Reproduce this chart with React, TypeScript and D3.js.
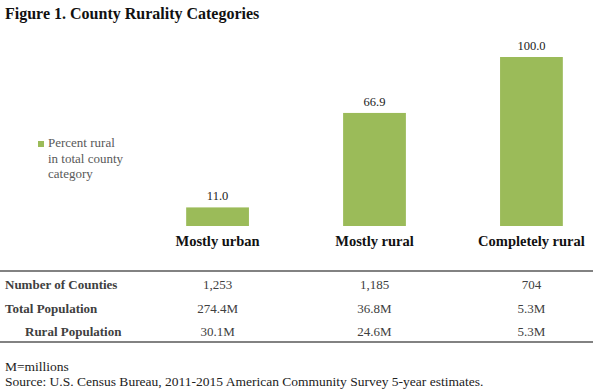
import React from "react";
import * as d3 from "d3";

const categories = ["Mostly urban", "Mostly rural", "Completely rural"];
const percentRural = [11.0, 66.9, 100.0];
const rowLabels = ["Number of Counties", "Total Population", "Rural Population"];
const counties = ["1,253", "1,185", "704"];
const totalPop = ["274.4M", "36.8M", "5.3M"];
const ruralPop = ["30.1M", "24.6M", "5.3M"];
const legendLines = ["Percent rural", "in total county", "category"];

const W = 601;
const H = 391;
const GREEN = "#9bbb59";
const serif = "Liberation Serif";

const App: React.FC = () => {
  const x = d3.scaleBand<string>().domain(categories).range([92, 657]).padding(0.6);
  const y = d3.scaleLinear().domain([0, 100]).range([226, 57]);

  const rows = [counties, totalPop, ruralPop];
  const rowY = d3.scalePoint<string>().domain(rowLabels).range([289, 336]);

  return (
    <svg
      width={W}
      height={H}
      style={{ position: "absolute", left: 0, top: 0, background: "#fff", fontFamily: serif }}
    >
      <text x={5} y={19} fontSize={16} fontWeight="bold" fill="#111">
        Figure 1. County Rurality Categories
      </text>

      {/* legend */}
      <rect x={38} y={141} width={6} height={6} fill={GREEN} />
      {legendLines.map((t, i) => (
        <text key={t} x={48} y={147 + i * 15.5} fontSize={13} fill="#595959">
          {t}
        </text>
      ))}

      {categories.map((c, i) => {
        const v = percentRural[i];
        const bx = x(c) ?? 0;
        const cx = bx + x.bandwidth() / 2;
        return (
          <g key={c}>
            <rect x={bx} y={y(v)} width={x.bandwidth()} height={y(0) - y(v)} fill={GREEN} />
            <text x={cx} y={y(v) - 7} textAnchor="middle" fontSize={12.5} fill="#222">
              {v.toFixed(1)}
            </text>
            <text x={cx} y={246} textAnchor="middle" fontSize={14.5} fontWeight="bold" fill="#111">
              {c}
            </text>
          </g>
        );
      })}

      {/* table */}
      <line x1={0} x2={593} y1={271} y2={271} stroke="#595959" strokeWidth={1.5} />
      <line x1={0} x2={593} y1={342} y2={342} stroke="#595959" strokeWidth={1.5} />
      {rowLabels.map((r, ri) => (
        <g key={r}>
          <text
            x={ri === 2 ? 25 : 5}
            y={rowY(r)}
            fontSize={13}
            fontWeight="bold"
            fill="#404040"
          >
            {r}
          </text>
          {categories.map((c, ci) => (
            <text
              key={c}
              x={(x(c) ?? 0) + x.bandwidth() / 2}
              y={rowY(r)}
              textAnchor="middle"
              fontSize={13}
              fill="#404040"
            >
              {rows[ri][ci]}
            </text>
          ))}
        </g>
      ))}

      <text x={5} y={371} fontSize={13.5} fill="#222">
        M=millions
      </text>
      <text x={5} y={386} fontSize={13.5} fill="#222">
        Source: U.S.  Census Bureau, 2011-2015 American Community Survey 5-year estimates.
      </text>
    </svg>
  );
};

export default App;
